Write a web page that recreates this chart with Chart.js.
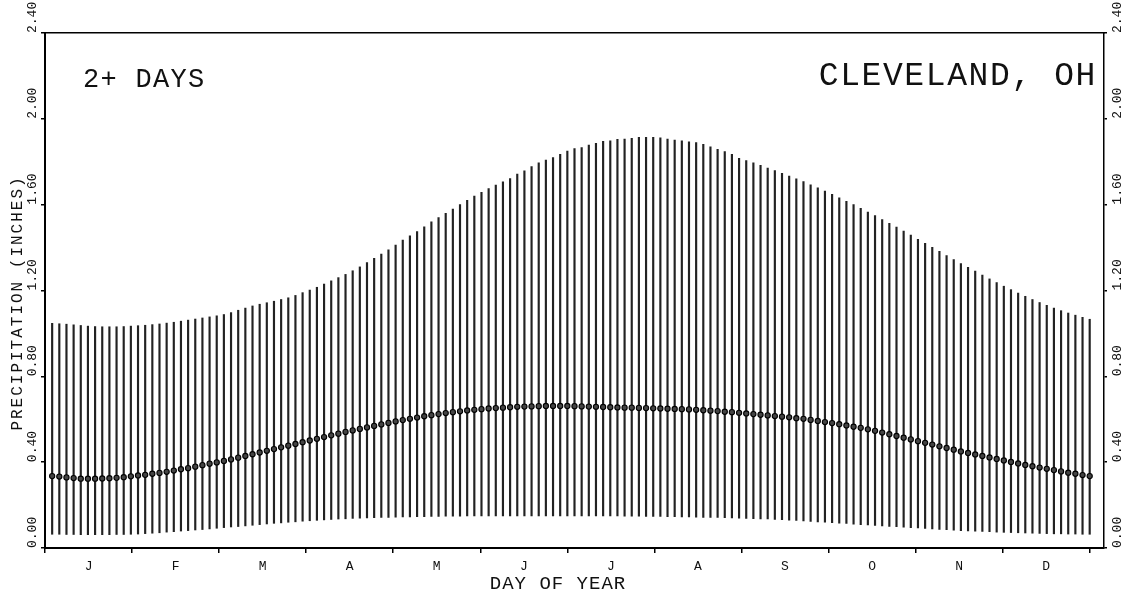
<!DOCTYPE html>
<html>
<head>
<meta charset="utf-8">
<script src="https://cdn.jsdelivr.net/npm/chart.js@4.4.0/dist/chart.umd.min.js"></script>
<style>
html,body{margin:0;padding:0;background:#fff;}
#wrap{width:1134px;height:598px;}
canvas{display:block;}
</style>
</head>
<body>
<div id="wrap"><canvas id="c" width="1134" height="598"></canvas></div>
<script>
// ---- data ----
const days = [2.5,5,7.5,10,12.5,15,17.5,20,22.5,25,27.5,30,32.5,35,37.5,40,42.5,45,47.5,50,
52.5,55,57.5,60,62.5,65,67.5,70,72.5,75,77.5,80,82.5,85,87.5,90,92.5,95,97.5,100,
102.5,105,107.5,110,112.5,115,117.5,120,122.5,125,127.5,130,132.5,135,137.5,140,142.5,145,147.5,150,
152.5,155,157.5,160,162.5,165,167.5,170,172.5,175,177.5,180,182.5,185,187.5,190,192.5,195,197.5,200,
202.5,205,207.5,210,212.5,215,217.5,220,222.5,225,227.5,230,232.5,235,237.5,240,242.5,245,247.5,250,
252.5,255,257.5,260,262.5,265,267.5,270,272.5,275,277.5,280,282.5,285,287.5,290,292.5,295,297.5,300,
302.5,305,307.5,310,312.5,315,317.5,320,322.5,325,327.5,330,332.5,335,337.5,340,342.5,345,347.5,350,
352.5,355,357.5,360,362.5,365];

const upper = [1.047,1.045,1.043,1.040,1.037,1.034,1.032,1.031,1.031,1.031,
1.032,1.034,1.036,1.038,1.041,1.044,1.048,1.052,1.057,1.062,
1.067,1.072,1.077,1.082,1.088,1.097,1.108,1.118,1.128,1.136,
1.143,1.150,1.158,1.166,1.177,1.190,1.202,1.215,1.230,1.245,
1.260,1.275,1.292,1.310,1.330,1.350,1.370,1.390,1.412,1.435,
1.455,1.475,1.497,1.520,1.540,1.560,1.580,1.600,1.620,1.640,
1.658,1.675,1.691,1.707,1.722,1.743,1.758,1.777,1.795,1.808,
1.820,1.834,1.850,1.861,1.866,1.878,1.886,1.895,1.898,1.904,
1.906,1.909,1.914,1.914,1.914,1.912,1.906,1.901,1.898,1.893,
1.889,1.881,1.870,1.858,1.847,1.834,1.816,1.805,1.795,1.783,
1.771,1.759,1.746,1.733,1.720,1.708,1.693,1.678,1.663,1.648,
1.632,1.616,1.600,1.583,1.566,1.549,1.531,1.513,1.495,1.477,
1.458,1.439,1.420,1.401,1.382,1.363,1.344,1.326,1.308,1.290,
1.272,1.254,1.237,1.220,1.204,1.188,1.173,1.158,1.144,1.131,
1.118,1.106,1.095,1.085,1.075,1.066];

const lower = [0.064,0.064,0.063,0.063,0.062,0.062,0.062,0.062,0.062,0.063,
0.063,0.064,0.065,0.067,0.069,0.071,0.074,0.076,0.079,0.081,
0.084,0.086,0.089,0.092,0.095,0.098,0.100,0.103,0.106,0.109,
0.112,0.115,0.117,0.120,0.122,0.125,0.127,0.129,0.131,0.133,
0.135,0.136,0.138,0.139,0.140,0.141,0.142,0.143,0.144,0.145,
0.145,0.146,0.146,0.147,0.147,0.148,0.148,0.148,0.149,0.149,
0.149,0.150,0.150,0.150,0.150,0.150,0.150,0.150,0.150,0.150,
0.150,0.150,0.150,0.150,0.150,0.150,0.149,0.149,0.149,0.149,
0.148,0.148,0.148,0.147,0.147,0.147,0.146,0.146,0.145,0.145,
0.144,0.143,0.143,0.142,0.141,0.140,0.139,0.138,0.137,0.136,
0.135,0.133,0.132,0.130,0.128,0.126,0.124,0.122,0.120,0.118,
0.116,0.114,0.111,0.109,0.107,0.105,0.103,0.101,0.099,0.097,
0.095,0.093,0.091,0.089,0.087,0.085,0.083,0.081,0.080,0.078,
0.077,0.076,0.074,0.073,0.072,0.071,0.070,0.069,0.068,0.067,
0.066,0.066,0.065,0.065,0.064,0.064];

const mean = [0.335,0.333,0.329,0.326,0.323,0.323,0.323,0.324,0.325,0.327,
0.330,0.334,0.338,0.341,0.346,0.350,0.355,0.361,0.367,0.372,
0.379,0.386,0.393,0.399,0.406,0.413,0.421,0.429,0.437,0.445,
0.453,0.461,0.469,0.477,0.485,0.493,0.501,0.509,0.517,0.525,
0.533,0.541,0.548,0.555,0.562,0.569,0.576,0.583,0.590,0.596,
0.602,0.608,0.614,0.619,0.624,0.629,0.633,0.637,0.641,0.644,
0.647,0.650,0.652,0.654,0.656,0.658,0.659,0.660,0.661,0.662,
0.662,0.662,0.662,0.661,0.660,0.659,0.658,0.657,0.656,0.655,
0.654,0.654,0.653,0.652,0.651,0.650,0.649,0.648,0.647,0.646,
0.644,0.642,0.640,0.638,0.635,0.633,0.630,0.627,0.624,0.621,
0.618,0.615,0.612,0.609,0.605,0.602,0.597,0.592,0.587,0.582,
0.577,0.571,0.565,0.560,0.553,0.546,0.538,0.530,0.522,0.514,
0.506,0.498,0.490,0.482,0.474,0.466,0.458,0.450,0.443,0.436,
0.429,0.422,0.415,0.408,0.401,0.394,0.387,0.381,0.375,0.369,
0.363,0.357,0.351,0.346,0.340,0.335];

const months = ['J','F','M','A','M','J','J','A','S','O','N','D'];
const yTickValues = [0, 0.4, 0.8, 1.2, 1.6, 2.0, 2.4];
const yTickLabels = ['0.00','0.40','0.80','1.20','1.60','2.00','2.40'];
const panelLabel = '2+ DAYS';
const stationLabel = 'CLEVELAND, OH';
const yTitle = 'PRECIPITATION (INCHES)';
const xTitle = 'DAY OF YEAR';

// ---- tick layout (month boundaries + month centres) ----
const monthLen = 365 / 12;
const xTickValues = [];
const xTickLabels = [];
for (let k = 0; k <= 12; k++) {
  xTickValues.push(k * monthLen); xTickLabels.push('');
  if (k < 12) { xTickValues.push((k + 0.5) * monthLen); xTickLabels.push(months[k]); }
}

const FONT = 'Liberation Mono';
const ink = '#111';

const textPlugin = {
  id: 'plotTexts',
  afterDraw(chart) {
    const {ctx, chartArea: a} = chart;
    ctx.save();
    ctx.fillStyle = ink;
    ctx.textBaseline = 'alphabetic';
    ctx.font = `27px "${FONT}"`;
    ctx.letterSpacing = '1.3px';
    ctx.textAlign = 'left';
    ctx.fillText(panelLabel, a.left + 38, a.top + 54);
    ctx.font = `33px "${FONT}"`;
    ctx.letterSpacing = '1.6px';
    ctx.textAlign = 'right';
    ctx.fillText(stationLabel, a.right - 7, a.top + 52);
    ctx.save();
    ctx.translate(a.left - 27, 303);
    ctx.rotate(-Math.PI / 2);
    ctx.font = `16px "${FONT}"`;
    ctx.letterSpacing = '2px';
    ctx.textAlign = 'center';
    ctx.textBaseline = 'middle';
    ctx.fillText(yTitle, 0, 0);
    ctx.restore();
    ctx.font = `19px "${FONT}"`;
    ctx.letterSpacing = '1px';
    ctx.textAlign = 'center';
    ctx.textBaseline = 'middle';
    ctx.fillText(xTitle, 558, a.bottom + 36);
    ctx.restore();
  }
};

const barData = days.map((d, i) => ({x: d, y: [lower[i], upper[i]]}));
const meanData = days.map((d, i) => ({x: d, y: mean[i]}));

new Chart(document.getElementById('c'), {
  type: 'bar',
  data: {
    datasets: [
      {
        type: 'line',
        data: meanData,
        showLine: false,
        pointRadius: 2.6,
        pointBorderWidth: 1.1,
        pointBorderColor: '#000',
        pointBackgroundColor: '#444',
        order: 0
      },
      {
        type: 'bar',
        data: barData,
        backgroundColor: '#222',
        borderWidth: 0,
        barThickness: 1.5,
        grouped: false,
        order: 1
      }
    ]
  },
  options: {
    responsive: false,
    animation: false,
    events: [],
    layout: {padding: {left: 26, top: 33, right: 0, bottom: 0}},
    plugins: {legend: {display: false}, tooltip: {enabled: false}},
    scales: {
      x: {
        type: 'linear', min: 0, max: 370, offset: false, position: 'bottom',
        afterBuildTicks: s => { s.ticks = xTickValues.map(v => ({value: v})); },
        afterFit: s => { s.height = 50; },
        grid: {
          display: true, drawOnChartArea: false, drawTicks: true, tickLength: 5, offset: false,
          color: '#000', lineWidth: 1.5,
          tickColor: c => (xTickLabels[c.index] ? 'rgba(0,0,0,0)' : '#000')
        },
        border: {display: true, color: '#000', width: 2},
        ticks: {
          autoSkip: false, maxRotation: 0, minRotation: 0, padding: 6, color: ink,
          font: {family: FONT, size: 13},
          callback: (v, i) => xTickLabels[i]
        }
      },
      xTop: {
        type: 'linear', min: 0, max: 370, position: 'top', offset: false,
        afterFit: s => { s.height = 0; },
        grid: {display: false, drawTicks: false},
        ticks: {display: false},
        border: {display: true, color: '#000', width: 1.5}
      },
      y: {
        type: 'linear', position: 'left', min: 0, max: 2.4,
        afterBuildTicks: s => { s.ticks = yTickValues.map(v => ({value: v})); },
        afterFit: s => { s.width = 19; },
        grid: {drawOnChartArea: false, tickLength: 4, color: '#000', lineWidth: 1.5},
        border: {display: true, color: '#000', width: 2},
        ticks: {
          minRotation: 90, maxRotation: 90, crossAlign: 'far', align: 'start', padding: 0,
          color: ink, font: {family: FONT, size: 13},
          callback: (v, i) => yTickLabels[i]
        }
      },
      yRight: {
        type: 'linear', position: 'right', min: 0, max: 2.4,
        afterBuildTicks: s => { s.ticks = yTickValues.map(v => ({value: v})); },
        afterFit: s => { s.width = 30; },
        grid: {drawOnChartArea: false, tickLength: 3, color: '#000', lineWidth: 1.5},
        border: {display: true, color: '#000', width: 1.5},
        ticks: {
          minRotation: 90, maxRotation: 90, crossAlign: 'near', align: 'start', padding: 4,
          color: ink, font: {family: FONT, size: 13},
          callback: (v, i) => yTickLabels[i]
        }
      }
    }
  },
  plugins: [textPlugin]
});
</script>
</body>
</html>
